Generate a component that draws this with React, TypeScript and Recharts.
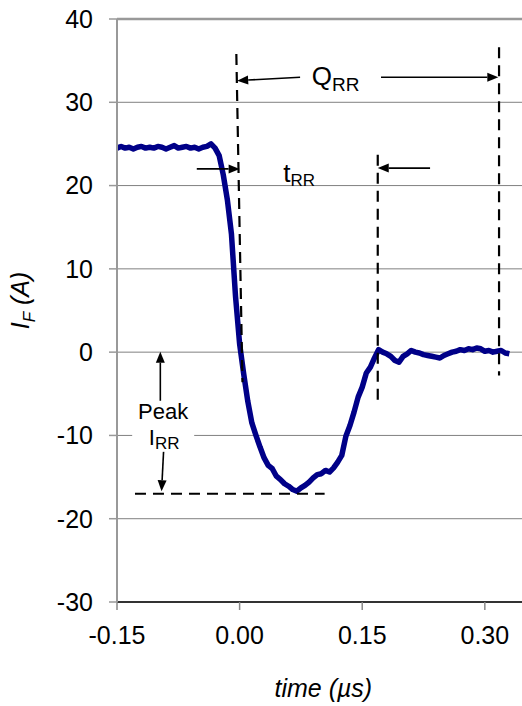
import { LineChart, Line, XAxis, YAxis, CartesianGrid, ReferenceLine, ReferenceDot } from 'recharts';

// reverse recovery waveform, time in µs, current in A
const times = [
  -0.15, -0.145, -0.14, -0.135, -0.13, -0.125, -0.12, -0.115, -0.11, -0.105,
  -0.1, -0.095, -0.09, -0.085, -0.08, -0.075, -0.07, -0.065, -0.06, -0.055,
  -0.05, -0.045, -0.04, -0.035, -0.03, -0.025, -0.02, -0.015, -0.01, -0.005,
  0, 0.005, 0.01, 0.015, 0.02, 0.025, 0.03, 0.035, 0.04, 0.045,
  0.05, 0.055, 0.06, 0.065, 0.07, 0.075, 0.08, 0.085, 0.09, 0.095,
  0.1, 0.105, 0.11, 0.115, 0.12, 0.125, 0.13, 0.135, 0.14, 0.145,
  0.15, 0.155, 0.16, 0.165, 0.17, 0.175, 0.18, 0.185, 0.19, 0.195,
  0.2, 0.205, 0.21, 0.215, 0.22, 0.225, 0.23, 0.235, 0.24, 0.245,
  0.25, 0.255, 0.26, 0.265, 0.27, 0.275, 0.28, 0.285, 0.29, 0.295,
  0.3, 0.305, 0.31, 0.315, 0.32, 0.325, 0.33,
];
const current = [
  24.5, 24.7, 24.5, 24.6, 24.4, 24.6, 24.7, 24.5, 24.6, 24.5,
  24.7, 24.6, 24.4, 24.6, 24.8, 24.5, 24.6, 24.7, 24.5, 24.6,
  24.4, 24.6, 24.7, 25.0, 24.5, 23.6, 21.3, 18.3, 14.2, 6.7,
  1.0, -2.6, -5.9, -8.5, -10.0, -11.4, -12.7, -13.6, -14.0, -14.9,
  -15.3, -15.8, -16.1, -16.5, -16.7, -16.3, -16.0, -15.6, -15.1, -14.7,
  -14.6, -14.2, -14.4, -13.9, -13.2, -12.4, -10.1, -8.8, -7.2, -5.4,
  -4.2, -2.5, -1.8, -0.7, 0.3, 0.0, -0.2, -0.5, -1.0, -1.2,
  -0.5, -0.2, 0.2, 0.0, -0.1, -0.3, -0.4, -0.5, -0.6, -0.7,
  -0.4, -0.2, 0.0, 0.1, 0.3, 0.2, 0.4, 0.3, 0.5, 0.4,
  0.1, 0.2, 0.0, 0.1, 0.2, -0.1, -0.2,
];

const yTicks = [-30, -20, -10, 0, 10, 20, 30, 40];
const xTicks = [-0.15, 0, 0.15, 0.3];

// annotation geometry in data units [time, current]
const dashedLines = [
  [[-0.004, 35.8], [0.0035, -3.6]],
  [[0.169, 23.7], [0.169, -6.1]],
  [[0.3174, 36.6], [0.3174, -2.8]],
  [[-0.128, -17.0], [0.104, -17.0]],
];
const arrows = [
  [[0.074, 33.0], [-0.003, 32.6]],
  [[0.173, 33.0], [0.3165, 33.0]],
  [[-0.0524, 22.0], [0.0, 22.0]],
  [[0.233, 22.1], [0.169, 22.1]],
  [[-0.097, -5.9], [-0.097, 0.05]],
  [[-0.093, -11.9], [-0.0955, -16.7]],
];
const qrrPos = [0.0884, 32.1];
const trrPos = [0.0533, 20.4];
const peakPos = [-0.0935, -8.0];

const data = times.map((t, i) => ({ t, i: current[i] }));

const font = 'Liberation Sans, Arial, sans-serif';

const ArrowShape = (props: any) => {
  const { x1, y1, x2, y2 } = props;
  const dx = x2 - x1;
  const dy = y2 - y1;
  const len = Math.hypot(dx, dy) || 1;
  const ux = dx / len;
  const uy = dy / len;
  const hl = 11;
  const hw = 4.5;
  const bx = x2 - ux * hl;
  const by = y2 - uy * hl;
  const pts = `${x2},${y2} ${bx - uy * hw},${by + ux * hw} ${bx + uy * hw},${by - ux * hw}`;
  return (
    <g>
      <line x1={x1} y1={y1} x2={bx} y2={by} stroke="#000" strokeWidth={1.6} />
      <polygon points={pts} fill="#000" />
    </g>
  );
};

const QrrLabel = (props: any) => (
  <text x={props.cx} y={props.cy} fontFamily={font} fontSize={26} fill="#000">
    Q<tspan fontSize={19} dy={6}>RR</tspan>
  </text>
);

const TrrLabel = (props: any) => (
  <text x={props.cx} y={props.cy} fontFamily={font} fontSize={26} fill="#000">
    t<tspan fontSize={17} dy={4}>RR</tspan>
  </text>
);

const PeakLabel = (props: any) => {
  const { cx, cy } = props;
  return (
    <g>
      <rect x={cx - 31} y={cy - 18} width={62} height={51} fill="#fff" />
      <text x={cx} y={cy} textAnchor="middle" fontFamily={font} fontSize={22} fill="#000">
        Peak
      </text>
      <text x={cx + 1} y={cy + 26} textAnchor="middle" fontFamily={font} fontSize={22} fill="#000">
        I<tspan fontSize={17} dy={4}>RR</tspan>
      </text>
    </g>
  );
};

const YLabel = (props: any) => {
  const vb = props.viewBox || { x: 0, y: 19, width: 117, height: 583 };
  const x = vb.x + 29;
  const y = vb.y + vb.height / 2 - 10;
  return (
    <text
      x={x}
      y={y}
      transform={`rotate(-90, ${x}, ${y})`}
      textAnchor="middle"
      fontFamily={font}
      fontSize={25}
      fontStyle="italic"
      fill="#000"
    >
      I<tspan fontSize={17} dy={6}>F</tspan>
      <tspan dy={-6}> (A)</tspan>
    </text>
  );
};

const XLabel = (props: any) => {
  const vb = props.viewBox || { x: 117, y: 602, width: 409, height: 104 };
  return (
    <text
      x={vb.x + vb.width / 2 + 2}
      y={vb.y + 95}
      textAnchor="middle"
      fontFamily={font}
      fontSize={25}
      fontStyle="italic"
      fill="#000"
    >
      time (µs)
    </text>
  );
};

export default function App() {
  return (
    <div style={{ position: 'absolute', left: 0, top: 0, width: 522, height: 706, overflow: 'hidden', background: '#fff' }}>
      <LineChart width={530} height={706} data={data} margin={{ top: 19, right: 4.3, left: 0, bottom: 0 }}>
        <CartesianGrid vertical={false} stroke="#808080" strokeWidth={1} />
        <XAxis
          type="number"
          dataKey="t"
          domain={[-0.15, 0.35]}
          ticks={xTicks}
          allowDataOverflow
          tickFormatter={(v: number) => v.toFixed(2)}
          height={104}
          tickSize={8}
          tickMargin={16}
          stroke="#333"
          strokeWidth={2}
          tickLine={{ stroke: '#888', strokeWidth: 1.5 }}
          tick={{ fill: '#000', fontSize: 25, fontFamily: font }}
          label={XLabel}
        />
        <YAxis
          type="number"
          domain={[-30, 40]}
          ticks={yTicks}
          allowDataOverflow
          width={117}
          tickSize={8}
          tickMargin={16}
          stroke="#999"
          strokeWidth={2}
          tickLine={{ stroke: '#999', strokeWidth: 1.5 }}
          tick={{ fill: '#000', fontSize: 25, fontFamily: font }}
          label={YLabel}
        />
        <ReferenceLine y={40} stroke="#999" strokeWidth={2.5} ifOverflow="visible" />
        <Line
          type="linear"
          dataKey="i"
          stroke="#000088"
          strokeWidth={5.5}
          strokeLinejoin="round"
          dot={false}
          isAnimationActive={false}
        />
        <ReferenceDot x={peakPos[0]} y={peakPos[1]} r={0} ifOverflow="visible" shape={PeakLabel} />
        {dashedLines.map((s, k) => (
          <ReferenceLine
            key={`d${k}`}
            segment={[{ x: s[0][0], y: s[0][1] }, { x: s[1][0], y: s[1][1] }]}
            stroke="#000"
            strokeWidth={2.2}
            strokeDasharray="11 7"
            ifOverflow="visible"
          />
        ))}
        {arrows.map((s, k) => (
          <ReferenceLine
            key={`a${k}`}
            segment={[{ x: s[0][0], y: s[0][1] }, { x: s[1][0], y: s[1][1] }]}
            stroke="#000"
            ifOverflow="visible"
            shape={ArrowShape}
          />
        ))}
        <ReferenceDot x={qrrPos[0]} y={qrrPos[1]} r={0} ifOverflow="visible" shape={QrrLabel} />
        <ReferenceDot x={trrPos[0]} y={trrPos[1]} r={0} ifOverflow="visible" shape={TrrLabel} />
      </LineChart>
    </div>
  );
}
